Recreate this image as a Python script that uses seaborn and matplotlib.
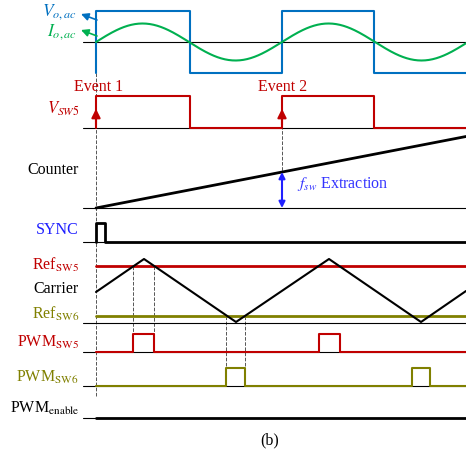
import numpy as np
import pandas as pd
import matplotlib
matplotlib.use("Agg")
import matplotlib.pyplot as plt
import seaborn as sns

sns.set_theme(style="white")
plt.rcParams["font.family"] = ["Liberation Serif", "DejaVu Serif"]
plt.rcParams["mathtext.fontset"] = "stix"

# ---- data (time axis in drawing units, levels in drawing units) ----
t_start, t_end, t_label = 96, 466, 83
vo_edges = [96, 190, 282, 374]            # Vo,ac transitions
vo_levels = [11, 73]                       # high / low
vo_base = 42
io_amp, io_half = 18.5, 93                 # Io,ac amplitude / half period
vsw5_edges = [96, 190, 282, 374]
vsw5_levels = [96, 128]
counter_start, counter_end = (96, 208), (466, 136.5)
sync_pulse = [96, 105]
sync_levels = [223, 242]
ref_sw5 = 266
ref_sw6 = 316
carrier_t = [96, 144, 236, 329, 421, 466]
carrier_y = [292, 259, 322, 259, 322, 291]
pwm5_pulses = [(133, 154), (319, 340)]
pwm5_levels = [334, 352]
pwm6_pulses = [(226, 245), (412, 430)]
pwm6_levels = [368, 386]
pwm_en_level = 418
sep_lines = [42, 128, 208, 242, 323, 352, 386, 418]

BLUE = "#0070C0"; GREEN = "#00B050"; RED = "#C00000"; OLIVE = "#808000"
LW = 1.5

fig = plt.figure(figsize=(4.66, 4.55), dpi=100)
ax = fig.add_axes([0, 0, 1, 1])
ax.set_xlim(0, 466); ax.set_ylim(455, 0); ax.axis("off")

def line(x, y, color, lw=LW, ls="-", z=2):
    sns.lineplot(x=x, y=y, ax=ax, color=color, lw=lw, ls=ls, sort=False,
                 estimator=None, zorder=z)

def square(edges, levels, start_high=True):
    xs, ys = [], []
    hi, lo = levels
    state = start_high
    xs.append(edges[0]); ys.append(lo)
    for e in edges:
        xs += [e, e]
        ys += [ys[-1], hi if state else lo]
        state = not state
    xs.append(t_end); ys.append(ys[-1])
    return xs, ys

def pulses(pl, levels):
    hi, lo = levels
    xs, ys = [t_start], [lo]
    for a, b in pl:
        xs += [a, a, b, b]; ys += [lo, hi, hi, lo]
    xs.append(t_end); ys.append(lo)
    return xs, ys

# baselines
for yb in sep_lines:
    line([t_label, t_end], [yb, yb], "black", lw=0.8, z=1)

# dashed guides
dash = dict(color="#555555", lw=0.7, ls="--", z=0)
line([96, 96], [42, 396], **dash)
line([282, 282], [110, 172], **dash)
line([133, 133], [266, 352], **dash)
line([154, 154], [266, 352], **dash)
line([226, 226], [316, 386], **dash)
line([245, 245], [316, 386], **dash)

# Vo,ac
x, y = square(vo_edges, vo_levels)
line(x, y, BLUE)
# Io,ac
ti = np.linspace(t_start, t_end, 400)
line(ti, vo_base - io_amp * np.sin(np.pi * (ti - t_start) / io_half), GREEN)
# Vsw5
x, y = square(vsw5_edges, vsw5_levels)
line(x, y, RED)
# Counter
line([counter_start[0], counter_end[0]], [counter_start[1], counter_end[1]], "black", lw=2)
# SYNC
x, y = pulses([tuple(sync_pulse)], sync_levels)
line(x, y, "black", lw=2)
# refs and carrier
line([t_start, t_end], [ref_sw5, ref_sw5], RED, lw=2)
line([t_start, t_end], [ref_sw6, ref_sw6], OLIVE, lw=2)
line(carrier_t, carrier_y, "black", lw=1.5)
# PWMs
x, y = pulses(pwm5_pulses, pwm5_levels)
line(x, y, RED)
x, y = pulses(pwm6_pulses, pwm6_levels)
line(x, y, OLIVE)
line([t_start, t_end], [pwm_en_level, pwm_en_level], "black", lw=2)

# arrows
ax.annotate("", xy=(81, 14), xytext=(97, 20),
            arrowprops=dict(arrowstyle="-|>", color=BLUE, lw=1.2, mutation_scale=11,
                            shrinkA=0, shrinkB=0))
ax.annotate("", xy=(81, 30), xytext=(97, 36),
            arrowprops=dict(arrowstyle="-|>", color=GREEN, lw=1.2, mutation_scale=11,
                            shrinkA=0, shrinkB=0))
for xe in [96, 282]:
    ax.annotate("", xy=(xe, 106), xytext=(xe, 128),
                arrowprops=dict(arrowstyle="-|>", color=RED, lw=1.5, mutation_scale=13))
ax.annotate("", xy=(282, 172), xytext=(282, 208),
            arrowprops=dict(arrowstyle="<|-|>", color="#2020FF", lw=1.5, mutation_scale=9,
                            shrinkA=0, shrinkB=0))

# labels
fs = 11.5
ax.text(77, 16, r"$V_{o,ac}$", color=BLUE, fontsize=12.5, ha="right", va="baseline")
ax.text(77, 35.5, r"$I_{o,ac}$", color=GREEN, fontsize=12.5, ha="right", va="baseline")
ax.text(99, 87, "Event 1", color=RED, fontsize=fs, ha="center", va="center")
ax.text(283, 87, "Event 2", color=RED, fontsize=fs, ha="center", va="center")
ax.text(80, 109, r"$V_{SW5}$", color=RED, fontsize=12, ha="right", va="center")
ax.text(79, 170, "Counter", color="black", fontsize=fs, ha="right", va="center")
ax.text(297, 184, r"$f_{sw}$ Extraction", color="#3333FF", fontsize=fs, ha="left", va="center")
ax.text(79, 230, "SYNC", color="#1F1FFF", fontsize=fs, ha="right", va="center")
ax.text(79, 265, r"Ref$_{\mathrm{SW5}}$", color=RED, fontsize=fs, ha="right", va="center")
ax.text(79, 289, "Carrier", color="black", fontsize=fs, ha="right", va="center")
ax.text(79, 314, r"Ref$_{\mathrm{SW6}}$", color=OLIVE, fontsize=fs, ha="right", va="center")
ax.text(79, 342, r"PWM$_{\mathrm{SW5}}$", color=RED, fontsize=fs, ha="right", va="center")
ax.text(79, 377, r"PWM$_{\mathrm{SW6}}$", color=OLIVE, fontsize=fs, ha="right", va="center")
ax.text(79, 408, r"PWM$_{\mathrm{enable}}$", color="black", fontsize=fs, ha="right", va="center")
ax.text(270, 440, "(b)", color="black", fontsize=fs, ha="center", va="center")

fig.savefig("out.png", dpi=100)
